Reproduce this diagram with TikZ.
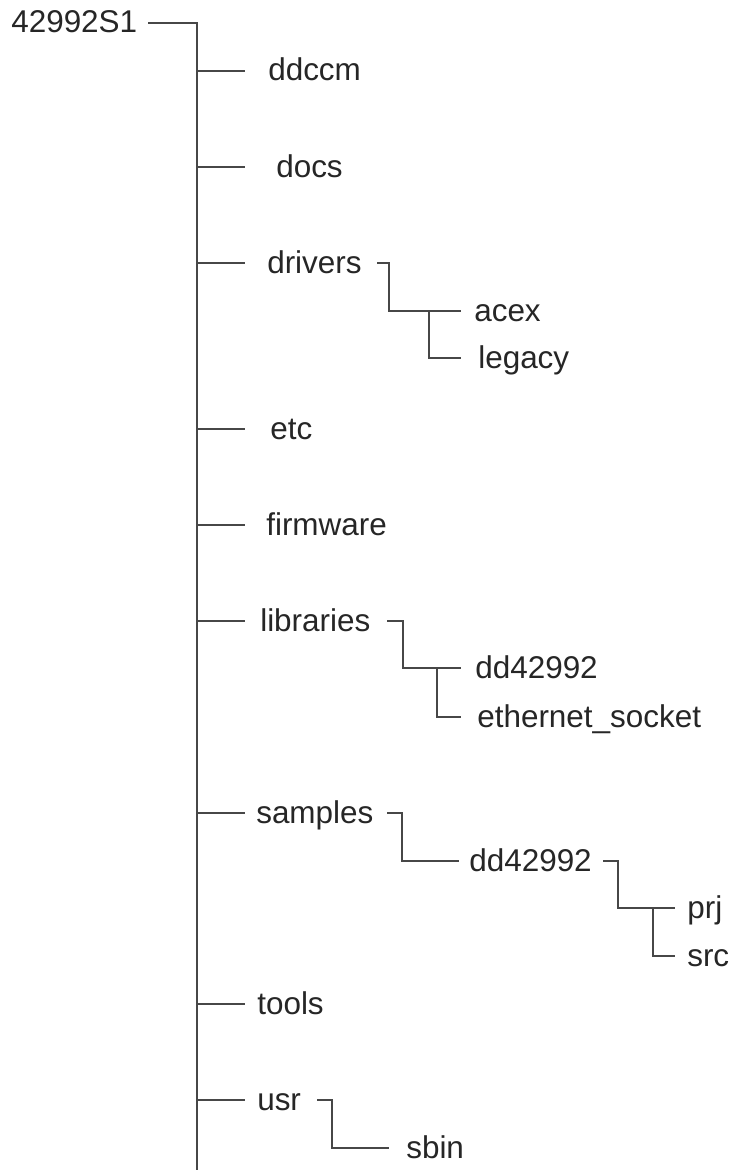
\documentclass[tikz,border=0pt]{standalone}
\usepackage{fontspec}
\setmainfont{Liberation Sans}
\usepackage{tikz}
\usetikzlibrary{positioning}
\newcommand{\dirfont}{\fontsize{23.6}{28}\selectfont}

\begin{document}
\begin{tikzpicture}[
    x=0.75pt, y=-0.75pt,
    dir/.style={anchor=west, inner sep=0pt, text height=15pt, text depth=0pt, font=\dirfont, text=black!85},
    conn/.style={draw=black!72, line width=1.5pt},
]
\useasboundingbox (0,0) rectangle (736,1170);

% Root and trunk
\node[dir] (root) at (11,23) {42992S1};
\coordinate (root-s) at (148,23);
\coordinate (trunk) at (197,23);
\coordinate (trunk-end) at (197,1170);
\draw[conn] (root-s) -- (trunk) -- (trunk-end);

% First level
\foreach \name/\tx/\y in {ddccm/268/71, docs/276/167, drivers/267/263, etc/270/429,
    firmware/266/525, libraries/260/621, samples/256/813, tools/257/1004, usr/257/1100}
{
    \node[dir] (\name) at (\tx,\y) {\name};
    \coordinate (\name-b) at (245,\y);
    \draw[conn] (trunk |- \name-b) -- (\name-b);
}

% drivers
\node[dir] (acex) at (474,311) {acex};
\node[dir] (legacy) at (478,358) {legacy};
\coordinate (drivers-s) at (377,263);
\coordinate (drivers-k) at (389,263);
\coordinate (drivers-m) at (429,311);
\coordinate (acex-b) at (461,311);
\coordinate (legacy-b) at (461,358);
\draw[conn] (drivers-s) -- (drivers-k) |- (acex-b);
\draw[conn] (drivers-m) |- (legacy-b);

% libraries
\node[dir] (libdd) at (475,668) {dd42992};
\node[dir] (ethernet) at (477,717) {ethernet\_socket};
\coordinate (libraries-s) at (387,621);
\coordinate (libraries-k) at (403,621);
\coordinate (libraries-m) at (437,668);
\coordinate (libdd-b) at (461,668);
\coordinate (ethernet-b) at (461,717);
\draw[conn] (libraries-s) -- (libraries-k) |- (libdd-b);
\draw[conn] (libraries-m) |- (ethernet-b);

% samples
\node[dir] (smpdd) at (469,861) {dd42992};
\node[dir] (prj) at (687,908) {prj};
\node[dir] (src) at (687,956) {src};
\coordinate (samples-s) at (387,813);
\coordinate (samples-k) at (402,813);
\coordinate (smpdd-b) at (459,861);
\coordinate (smpdd-s) at (603,861);
\coordinate (smpdd-k) at (618,861);
\coordinate (smpdd-m) at (653,908);
\coordinate (prj-b) at (675,908);
\coordinate (src-b) at (675,956);
\draw[conn] (samples-s) -- (samples-k) |- (smpdd-b);
\draw[conn] (smpdd-s) -- (smpdd-k) |- (prj-b);
\draw[conn] (smpdd-m) |- (src-b);

% usr
\node[dir] (sbin) at (406,1148) {sbin};
\coordinate (usr-s) at (317,1100);
\coordinate (usr-k) at (332,1100);
\coordinate (sbin-b) at (389,1148);
\draw[conn] (usr-s) -- (usr-k) |- (sbin-b);

\end{tikzpicture}
\end{document}
